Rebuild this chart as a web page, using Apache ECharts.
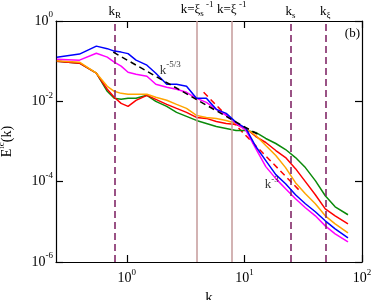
<!DOCTYPE html>
<html><head><meta charset="utf-8">
<script src="https://cdn.jsdelivr.net/npm/echarts@6/dist/echarts.min.js"></script>
<style>html,body{margin:0;padding:0;background:#fff}#c{width:374px;height:300px}</style>
</head><body><div id="c"></div>
<script>
// shared wavenumber grid
const kValues = [0.254,0.396,0.551,0.682,0.782,0.895,1.025,1.198,1.483,1.765,2.185,2.65,3.22,3.91,4.75,5.77,7.0,8.5,10.3,12.5,15.2,18.5,22.4,27.2,33.0,40.1,48.7,59.1,76.0];
const blueE = [0.126,0.150,0.237,0.205,0.178,0.168,0.154,0.106,0.0794,0.0501,0.0266,0.0266,0.0237,0.0119,0.0119,0.00631,0.00501,0.00299,0.00211,7.5e-4,3.35e-4,1.5e-4,8.91e-5,4.73e-5,2.82e-5,1.78e-5,1.06e-5,6.68e-6,3.98e-6];
const magentaE = [0.112,0.106,0.158,0.126,0.0944,0.0750,0.0531,0.0473,0.0422,0.0266,0.0224,0.0200,0.0168,0.0119,0.00944,0.00631,0.00447,0.00282,0.00188,6.68e-4,2.37e-4,1.19e-4,6.68e-5,3.76e-5,2.24e-5,1.41e-5,7.94e-6,5.01e-6,3.16e-6];
const orangeE = [0.103,0.0944,0.0501,0.0237,0.0178,0.0158,0.0150,0.0150,0.0150,0.0126,0.0106,0.00841,0.00668,0.00447,0.00398,0.00376,0.00335,0.00282,0.00211,0.00141,7.94e-4,4.47e-4,2.24e-4,9.44e-5,5.01e-5,2.82e-5,1.41e-5,8.91e-6,5.31e-6];
const redE = [0.100,0.0891,0.0501,0.0200,0.0126,0.00891,0.00750,0.0106,0.0141,0.0112,0.00841,0.00668,0.00531,0.00398,0.00376,0.00316,0.00282,0.00266,0.00211,0.00133,9.44e-4,5.96e-4,3.98e-4,2.11e-4,1.0e-4,4.73e-5,2.11e-5,1.41e-5,8.91e-6];
const greenE = [0.100,0.0891,0.0501,0.0178,0.0119,0.0112,0.0119,0.0119,0.0141,0.0100,0.00750,0.00531,0.00422,0.00335,0.00282,0.00237,0.00211,0.00188,0.00188,0.00168,0.00119,8.91e-4,6.31e-4,3.98e-4,2.24e-4,1.06e-4,4.47e-5,2.37e-5,1.50e-5];
// reference power laws
const slope53K = [0.767, 13.3];
const slope53E = [0.168, 0.00145];
const slope3K = [4.5, 30];
const slope3E = [0.0168, 5.67e-5];
// characteristic wavenumbers
const kR = 0.787, kXiS = 3.96, kXi = 7.8, kS = 24.7, kXiK = 48.7;
const xTicks = [1, 10, 100];
const yTicks = [1e-6, 1e-4, 1e-2, 1];

const SERIF = 'Liberation Serif';
const rich = {
  b: {fontFamily: SERIF, fontSize: 14, color: '#000'},
  s: {fontFamily: SERIF, fontSize: 9, color: '#000', padding: [0, 0, 12, 0]},
  m: {fontFamily: SERIF, fontSize: 13, color: '#000'},
  ms: {fontFamily: SERIF, fontSize: 9, color: '#000', padding: [0, 0, 11, 0]},
  sb: {fontFamily: SERIF, fontSize: 9, color: '#000', padding: [7, 0, 0, 0]}
};
function decade(v) {
  const l = Math.log10(v), e = Math.round(l);
  if (Math.abs(l - e) > 1e-6) return '';
  return '{b|10}{s|' + e + '}';
}
function pairs(ks, es) { return ks.map((k, i) => [k, es[i]]); }
function curve(name, color, es, z) {
  return {type: 'line', name, data: pairs(kValues, es), symbol: 'none', z,
    lineStyle: {color, width: 1.5}, animation: false, silent: true};
}
const dashC = '#7a1a5e', solidC = '#c49a9a';
const vDash = {color: dashC, width: 1.5, type: [7, 4]};
const vSolid = {color: solidC, width: 1.5, type: 'solid'};

const green = curve('green', '#0a8a0a', greenE, 2);
green.markLine = {
  symbol: ['none', 'none'], silent: true, animation: false,
  label: {position: 'end', distance: 1, rich, color: '#000'},
  data: [
    {xAxis: kR, lineStyle: vDash, label: {formatter: '{m|k}{sb|R}'}},
    {xAxis: kXiS, lineStyle: vSolid, label: {formatter: '{m|k=ξ}{sb|s}{ms| -1}'}},
    {xAxis: kXi, lineStyle: vSolid, label: {formatter: '{m|k=ξ}{ms| -1}'}},
    {xAxis: kS, lineStyle: vDash, label: {formatter: '{m|k}{sb|s}'}},
    {xAxis: kXiK, lineStyle: vDash, label: {formatter: '{m|k}{sb|ξ}'}}
  ]
};

const option = {
  animation: false,
  backgroundColor: '#fff',
  grid: {left: 56, right: 12, top: 21, bottom: 38, containLabel: false, outerBoundsMode: 'none'},
  xAxis: [
    {type: 'log', min: 0.25, max: 100, logBase: 10, position: 'bottom',
     name: 'k', nameLocation: 'middle', nameGap: 26,
     nameTextStyle: {fontFamily: SERIF, fontSize: 15, color: '#000'},
     axisLine: {show: true, lineStyle: {color: '#000', width: 1.2}},
     axisTick: {show: true, inside: true, length: 7, lineStyle: {color: '#000', width: 1.2},
       customValues: xTicks},
     axisLabel: {margin: 6, formatter: decade, rich, customValues: xTicks},
     minorTick: {show: false}, splitLine: {show: false}},
    {type: 'log', min: 0.25, max: 100, logBase: 10, position: 'top',
     axisLine: {show: true, lineStyle: {color: '#000', width: 1.2}},
     axisTick: {show: true, inside: true, length: 7, lineStyle: {color: '#000', width: 1.2},
       customValues: xTicks},
     axisLabel: {show: false}, splitLine: {show: false}}
  ],
  yAxis: [
    {type: 'log', min: 1e-6, max: 1, logBase: 10, position: 'left',
     name: '{b|E}{s|ic}{b|(k)}', nameLocation: 'middle', nameGap: 38, nameRotate: 90,
     nameTextStyle: {rich},
     axisLine: {show: true, lineStyle: {color: '#000', width: 1.2}},
     axisTick: {show: true, inside: true, length: 7, lineStyle: {color: '#000', width: 1.2},
       customValues: yTicks},
     axisLabel: {margin: 3, formatter: decade, rich, customValues: yTicks},
     splitLine: {show: false}},
    {type: 'log', min: 1e-6, max: 1, logBase: 10, position: 'right',
     axisLine: {show: true, lineStyle: {color: '#000', width: 1.2}},
     axisTick: {show: true, inside: true, length: 7, lineStyle: {color: '#000', width: 1.2},
       customValues: yTicks},
     axisLabel: {show: false}, splitLine: {show: false}}
  ],
  series: [
    green,
    curve('red', '#ff0000', redE, 3),
    curve('orange', '#ffa500', orangeE, 3),
    curve('magenta', '#ff00ff', magentaE, 4),
    curve('blue', '#0000ff', blueE, 5),
    {type: 'line', data: pairs(slope53K, slope53E), symbol: 'none', z: 6,
     lineStyle: {color: '#000', width: 1.5, type: [6, 4]}},
    {type: 'line', data: pairs(slope3K, slope3E), symbol: 'none', z: 1,
     lineStyle: {color: '#ff0000', width: 1.5, type: [6, 4]}},
    {type: 'scatter', symbolSize: 0, z: 7,
     data: [{value: [1.908, 0.0596], label: {formatter: '{m|k}{ms|-5/3}'}},
            {value: [14.9, 8.41e-5], label: {formatter: '{m|k}{ms|-3}'}}],
     label: {show: true, position: 'right', distance: 0, rich}}
  ],
  graphic: [
    {type: 'text', right: 14, top: 27,
     style: {text: '(b)', fontFamily: SERIF, fontSize: 13, fill: '#000'}}
  ]
};
const chart = echarts.init(document.getElementById('c'), null, {renderer: 'canvas'});
chart.setOption(option);
</script></body></html>
